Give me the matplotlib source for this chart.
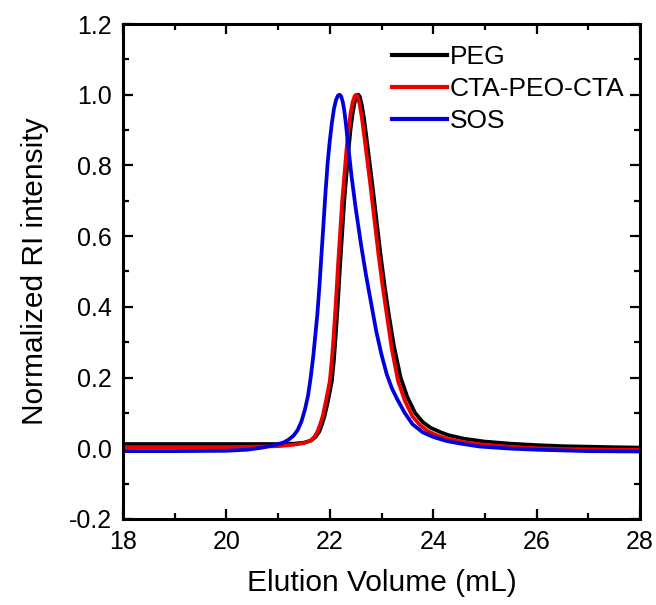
import matplotlib
matplotlib.use("Agg")
import matplotlib.pyplot as plt
from matplotlib.ticker import MultipleLocator

plt.rcParams['font.family'] = ['Liberation Sans', 'DejaVu Sans']

# PEG (black)
peg_x = [18.0, 20.0, 21.0, 21.3, 21.5, 21.64, 21.73, 21.8, 21.85, 21.9, 21.96, 22.0,
         22.04, 22.08, 22.12, 22.16, 22.20, 22.24, 22.28, 22.32, 22.36, 22.40, 22.44,
         22.48, 22.52, 22.55, 22.58, 22.62, 22.66, 22.70, 22.76, 22.82, 22.90, 22.98,
         23.06, 23.14, 23.24, 23.37, 23.5, 23.65, 23.8, 23.95, 24.15, 24.3, 24.6, 25.0,
         25.5, 26.0, 26.5, 27.5, 28.0]
peg_y = [0.012, 0.012, 0.012, 0.013, 0.016, 0.022, 0.033, 0.048, 0.068, 0.092, 0.13, 0.16,
         0.19, 0.25, 0.33, 0.42, 0.52, 0.61, 0.70, 0.77, 0.84, 0.90, 0.945,
         0.978, 0.996, 1.0, 0.995, 0.97, 0.935, 0.89, 0.82, 0.75, 0.65, 0.55,
         0.46, 0.38, 0.29, 0.20, 0.145, 0.10, 0.074, 0.058, 0.045, 0.037, 0.027, 0.019,
         0.013, 0.009, 0.006, 0.003, 0.002]

# CTA-PEO-CTA (red)
cta_x = [18.0, 20.0, 21.0, 21.3, 21.5, 21.62, 21.7, 21.76, 21.81, 21.86, 21.92, 21.96,
         22.0, 22.04, 22.08, 22.12, 22.16, 22.20, 22.24, 22.28, 22.32, 22.36, 22.40,
         22.44, 22.48, 22.51, 22.54, 22.58, 22.62, 22.66, 22.72, 22.78, 22.86, 22.94,
         23.02, 23.10, 23.2, 23.32, 23.45, 23.6, 23.75, 23.9, 24.1, 24.3, 24.6, 25.0,
         25.5, 26.0, 26.5, 27.5, 28.0]
cta_y = [0.003, 0.003, 0.006, 0.010, 0.015, 0.021, 0.032, 0.047, 0.066, 0.09, 0.13, 0.16,
         0.19, 0.25, 0.33, 0.42, 0.52, 0.61, 0.70, 0.77, 0.84, 0.90, 0.945,
         0.978, 0.996, 1.0, 0.995, 0.97, 0.935, 0.89, 0.82, 0.75, 0.65, 0.55,
         0.46, 0.38, 0.28, 0.19, 0.135, 0.09, 0.065, 0.048, 0.035, 0.026, 0.017, 0.010,
         0.004, 0.0, -0.002, -0.004, -0.004]

# SOS (blue)
sos_x = [18.0, 19.0, 20.0, 20.4, 20.7, 20.9, 21.1, 21.2, 21.3, 21.38, 21.45, 21.52,
         21.58, 21.63, 21.68, 21.72, 21.76, 21.80, 21.84, 21.88, 21.92, 21.96, 22.00,
         22.04, 22.08, 22.12, 22.16, 22.19, 22.22, 22.25, 22.28, 22.31, 22.36, 22.42,
         22.50, 22.60, 22.70, 22.80, 22.90, 23.0, 23.1, 23.2, 23.3, 23.45, 23.6, 23.8,
         24.0, 24.25, 24.5, 24.9, 25.5, 26.0, 27.0, 28.0]
sos_y = [-0.008, -0.008, -0.007, -0.004, 0.002, 0.008, 0.016, 0.024, 0.036, 0.052, 0.075, 0.11,
         0.15, 0.20, 0.26, 0.32, 0.38, 0.46, 0.55, 0.64, 0.73, 0.81, 0.87,
         0.92, 0.96, 0.985, 0.998, 1.0, 0.995, 0.98, 0.955, 0.92, 0.85, 0.77,
         0.68, 0.58, 0.49, 0.41, 0.33, 0.265, 0.21, 0.17, 0.14, 0.10, 0.068, 0.045,
         0.032, 0.021, 0.014, 0.005, -0.001, -0.004, -0.008, -0.009]

labels = ['PEG', 'CTA-PEO-CTA', 'SOS']
colors = ['#000000', '#ee0000', '#0000dd']

fig = plt.figure(figsize=(6.56, 6.05), dpi=100)
ax = fig.add_axes([123/656, 1-519/605, (640-123)/656, (519-24)/605])

lw = 2.7
ax.plot(peg_x, peg_y, color=colors[0], lw=lw, label=labels[0])
ax.plot(cta_x, cta_y, color=colors[1], lw=lw, label=labels[1])
ax.plot(sos_x, sos_y, color=colors[2], lw=lw, label=labels[2])

ax.set_xlim(18, 28)
ax.set_ylim(-0.2, 1.2)
ax.xaxis.set_major_locator(MultipleLocator(2))
ax.xaxis.set_minor_locator(MultipleLocator(1))
ax.yaxis.set_minor_locator(MultipleLocator(0.1))
ax.set_yticks([-0.2, 0.0, 0.2, 0.4, 0.6, 0.8, 1.0, 1.2])
ax.set_yticklabels(['-0.2', '0.0', '0.2', '0.4', '0.6', '0.8', '1.0', '1.2'])

for s in ax.spines.values():
    s.set_linewidth(2.2)
ax.tick_params(which='both', direction='in', top=True, right=True, width=1.6,
               labelsize=18, pad=8)
ax.tick_params(which='major', length=7)
ax.tick_params(which='minor', length=4)

ax.set_xlabel('Elution Volume (mL)', fontsize=21.5, labelpad=11)
ax.set_ylabel('Normalized RI intensity', fontsize=21.5, labelpad=14)

leg = ax.legend(loc='upper left', bbox_to_anchor=(0.50, 0.978), frameon=False,
                fontsize=19, handlelength=2.08, handletextpad=0.1,
                labelspacing=0.3, borderaxespad=0.0)
for line in leg.get_lines():
    line.set_linewidth(3.0)

fig.savefig('out.png', dpi=100)
